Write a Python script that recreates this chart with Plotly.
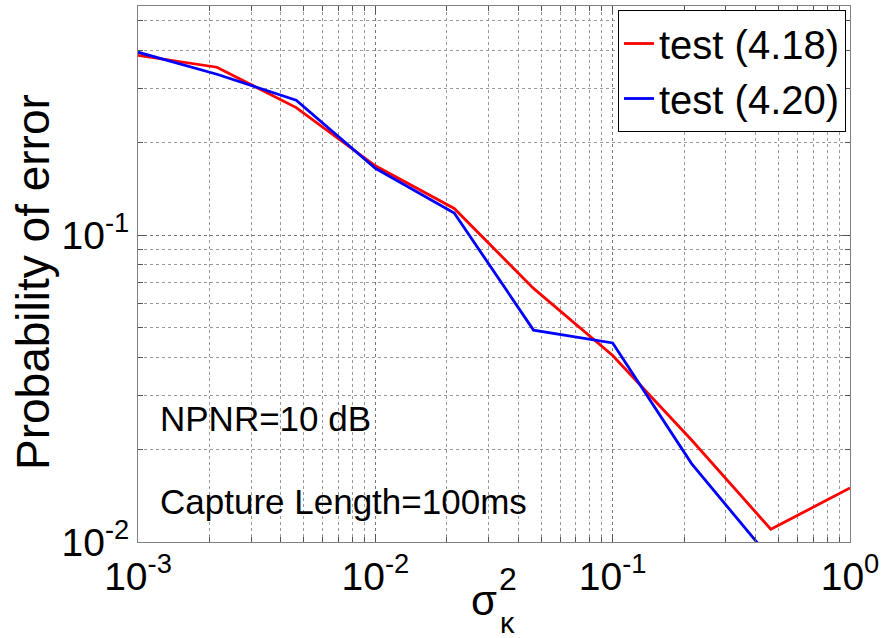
import plotly.graph_objects as go

# ---- data ----
sigma2 = [0.001, 0.00215, 0.00464, 0.01, 0.0215, 0.0464, 0.1, 0.215, 0.464, 1.0]
pe_418 = [0.385, 0.352, 0.26, 0.168, 0.122, 0.067, 0.0405, 0.0215, 0.0110, 0.0150]
pe_420 = [0.394, 0.334, 0.275, 0.165, 0.118, 0.049, 0.0445, 0.018, 0.0088, 0.0098]
series_names = ["test (4.18)", "test (4.20)"]
x_tickvals = [0.001, 0.01, 0.1, 1]
x_ticktext = ["10<sup>-3</sup>", "10<sup>-2</sup>", "10<sup>-1</sup>", "10<sup>0</sup>"]
y_tickvals = [0.01, 0.1]
y_ticktext = ["10<sup>-2</sup>", "10<sup>-1</sup>"]

x_minor = [m * d for d in (0.001, 0.01, 0.1) for m in range(2, 10)]
y_minor = [m * d for d in (0.01, 0.1) for m in range(2, 10)]

FONT = "Liberation Sans, Arial, sans-serif"
W, H = 885, 638
L, R, T, B = 138, 35, 6, 96
PW, PH = W - L - R, H - T - B

def px(xp):
    return (xp - L) / PW

def py(yp):
    return (H - B - yp) / PH

fig = go.Figure()
fig.add_trace(go.Scatter(x=sigma2, y=pe_418, mode="lines", name=series_names[0],
                         line=dict(color="#ff0000", width=2.8)))
fig.add_trace(go.Scatter(x=sigma2, y=pe_420, mode="lines", name=series_names[1],
                         line=dict(color="#0000ff", width=2.8)))

axis_common = dict(
    showline=True, linecolor="#808080", linewidth=1, mirror="allticks",
    ticks="inside", ticklen=8, tickcolor="#555",
    showgrid=True, gridcolor="#777", griddash="dot", gridwidth=1,
    zeroline=False,
    tickfont=dict(family=FONT, size=39, color="black"),
)

fig.update_xaxes(type="log", range=[-3, 0], tickvals=x_tickvals, ticktext=x_ticktext,
                 minor=dict(tickmode="array", tickvals=x_minor, ticks="inside", ticklen=5,
                            tickcolor="#555", showgrid=True,
                            gridcolor="#999", griddash="dot", gridwidth=1),
                 **axis_common)
fig.update_yaxes(type="log", range=[-2, -0.254], tickvals=y_tickvals, ticktext=y_ticktext,
                 minor=dict(tickmode="array", tickvals=y_minor, ticks="inside", ticklen=5,
                            tickcolor="#555", showgrid=True,
                            gridcolor="#999", griddash="dot", gridwidth=1),
                 **axis_common)

ann = []
# y-axis title
ann.append(dict(text="Probability of error", x=px(33), y=py(282), xref="paper", yref="paper",
                showarrow=False, textangle=-90, font=dict(family=FONT, size=46, color="black"),
                xanchor="center", yanchor="middle"))
# x-axis title: sigma with superscript 2 and subscript kappa
ann.append(dict(text="σ", x=px(484), y=py(600), xref="paper", yref="paper", showarrow=False,
                font=dict(family=FONT, size=42, color="black"), xanchor="center", yanchor="middle"))
ann.append(dict(text="2", x=px(508), y=py(579), xref="paper", yref="paper", showarrow=False,
                font=dict(family=FONT, size=32, color="black"), xanchor="center", yanchor="middle"))
ann.append(dict(text="κ", x=px(507), y=py(623), xref="paper", yref="paper", showarrow=False,
                font=dict(family=FONT, size=29, color="black"), xanchor="center", yanchor="middle"))
# in-plot text
ann.append(dict(text="NPNR=10 dB", x=px(158), y=py(418), xref="paper", yref="paper", showarrow=False,
                font=dict(family=FONT, size=35, color="black"), xanchor="left", yanchor="middle"))
ann.append(dict(text="Capture Length=100ms", x=px(158), y=py(501), xref="paper", yref="paper",
                showarrow=False, font=dict(family=FONT, size=35, color="black"),
                xanchor="left", yanchor="middle"))

fig.update_layout(
    width=W, height=H,
    margin=dict(l=L, r=R, t=T, b=B),
    paper_bgcolor="white", plot_bgcolor="white",
    showlegend=True,
    legend=dict(x=px(846), y=py(10), xanchor="right", yanchor="top",
                bgcolor="white", bordercolor="black", borderwidth=1,
                font=dict(family=FONT, size=40, color="black"),
                itemwidth=30, tracegroupgap=0),
    annotations=ann,
    font=dict(family=FONT),
)

fig.write_html("out.html")
